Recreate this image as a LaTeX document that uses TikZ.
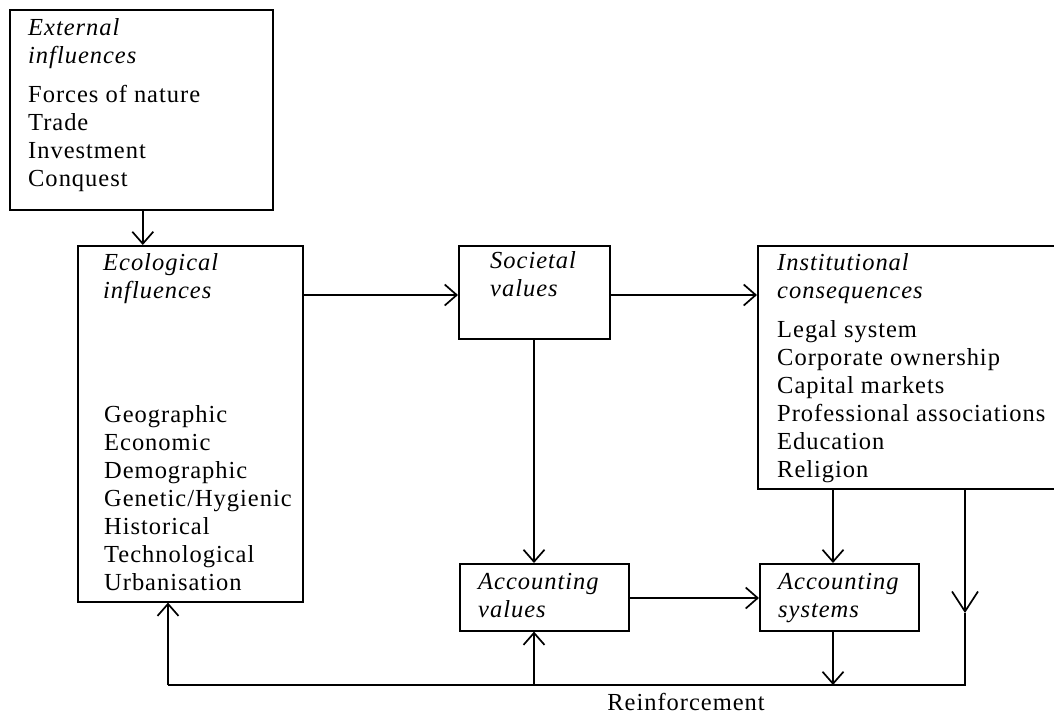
\documentclass[tikz,border=0pt]{standalone}
\usepackage{fontspec}
\setmainfont{Liberation Serif}[LetterSpace=4]
\usetikzlibrary{arrows.meta}
\begin{document}
\begin{tikzpicture}[x=1pt,y=-1pt,
  box/.style={draw,line width=1.6pt,inner sep=0pt,anchor=north west},
  txt/.style={anchor=north west,align=left,inner sep=0pt,font=\fontsize{24.5}{28}\selectfont},
  ln/.style={line width=1.5pt},
  arr/.style={ln,-{Straight Barb[length=12pt,width=21pt,line width=1.7pt]}},
  bigarr/.style={ln,-{Straight Barb[length=20pt,width=26pt,line width=1.7pt]}}]
\useasboundingbox (0,0) rectangle (1054,715);
\clip (0,0) rectangle (1054,715);
% boxes
\node[box,minimum width=263pt,minimum height=200pt] (ext) at (9,9) {};
\node[box,minimum width=225pt,minimum height=356pt] (eco) at (77,245) {};
\node[box,minimum width=151pt,minimum height=93pt] (soc) at (458,245) {};
\node[box,minimum width=310pt,minimum height=243pt] (inst) at (757,245) {};
\node[box,minimum width=169pt,minimum height=67pt] (accv) at (459,563) {};
\node[box,minimum width=159pt,minimum height=67pt] (accs) at (759,563) {};
% texts
\node[txt] (extT) at (28,18) {\textit{External}\\\textit{influences}\\[11pt]Forces of nature\\Trade\\Investment\\Conquest};
\node[txt] (ecoT) at (103,253) {\textit{Ecological}\\\textit{influences}};
\node[txt] (ecoL) at (104,405) {Geographic\\Economic\\Demographic\\Genetic/Hygienic\\Historical\\Technological\\Urbanisation};
\node[txt] (socT) at (490,251) {\textit{Societal}\\\textit{values}};
\node[txt] (instT) at (777,253) {\textit{Institutional}\\\textit{consequences}\\[11pt]Legal system\\Corporate ownership\\Capital markets\\Professional associations\\Education\\Religion};
\node[txt] (accvT) at (478,573) {\textit{Accounting}\\\textit{values}};
\node[txt] (accsT) at (778,573) {\textit{Accounting}\\\textit{systems}};
\node[anchor=base,inner sep=0pt,font=\fontsize{24.5}{28}\selectfont] (reinf) at (686,710) {Reinforcement};
% coordinates
\coordinate (extdown) at ([xshift=1.5pt]ext.south);
\coordinate (socdown) at (534,338);
\coordinate (instdown) at (833,488);
\coordinate (instright) at (965,488);
\coordinate (rmid) at (965,613);
\coordinate (rb) at (965,685);
\coordinate (lb) at (168,685);
\coordinate (mb) at (534,685);
\coordinate (sb) at (833,685);
% connectors
\draw[arr] (extdown) -- (extdown |- eco.north);
\draw[arr] (eco.east |- 0,295) -- (soc.west |- 0,295);
\draw[arr] (soc.east |- 0,295) -- (inst.west |- 0,295);
\draw[arr] (socdown) -- (socdown |- accv.north);
\draw[arr] (instdown) -- (instdown |- accs.north);
\draw[arr] (accv.east |- 0,598) -- (accs.west |- 0,598);
\draw[bigarr] (instright) -- (rmid);
\draw[ln] (rmid) -- (rb) -- (lb);
\draw[arr] (lb) -- (lb |- eco.south);
\draw[arr] (mb) -- (mb |- accv.south);
\draw[arr] (sb |- accs.south) -- (sb);
\end{tikzpicture}
\end{document}
